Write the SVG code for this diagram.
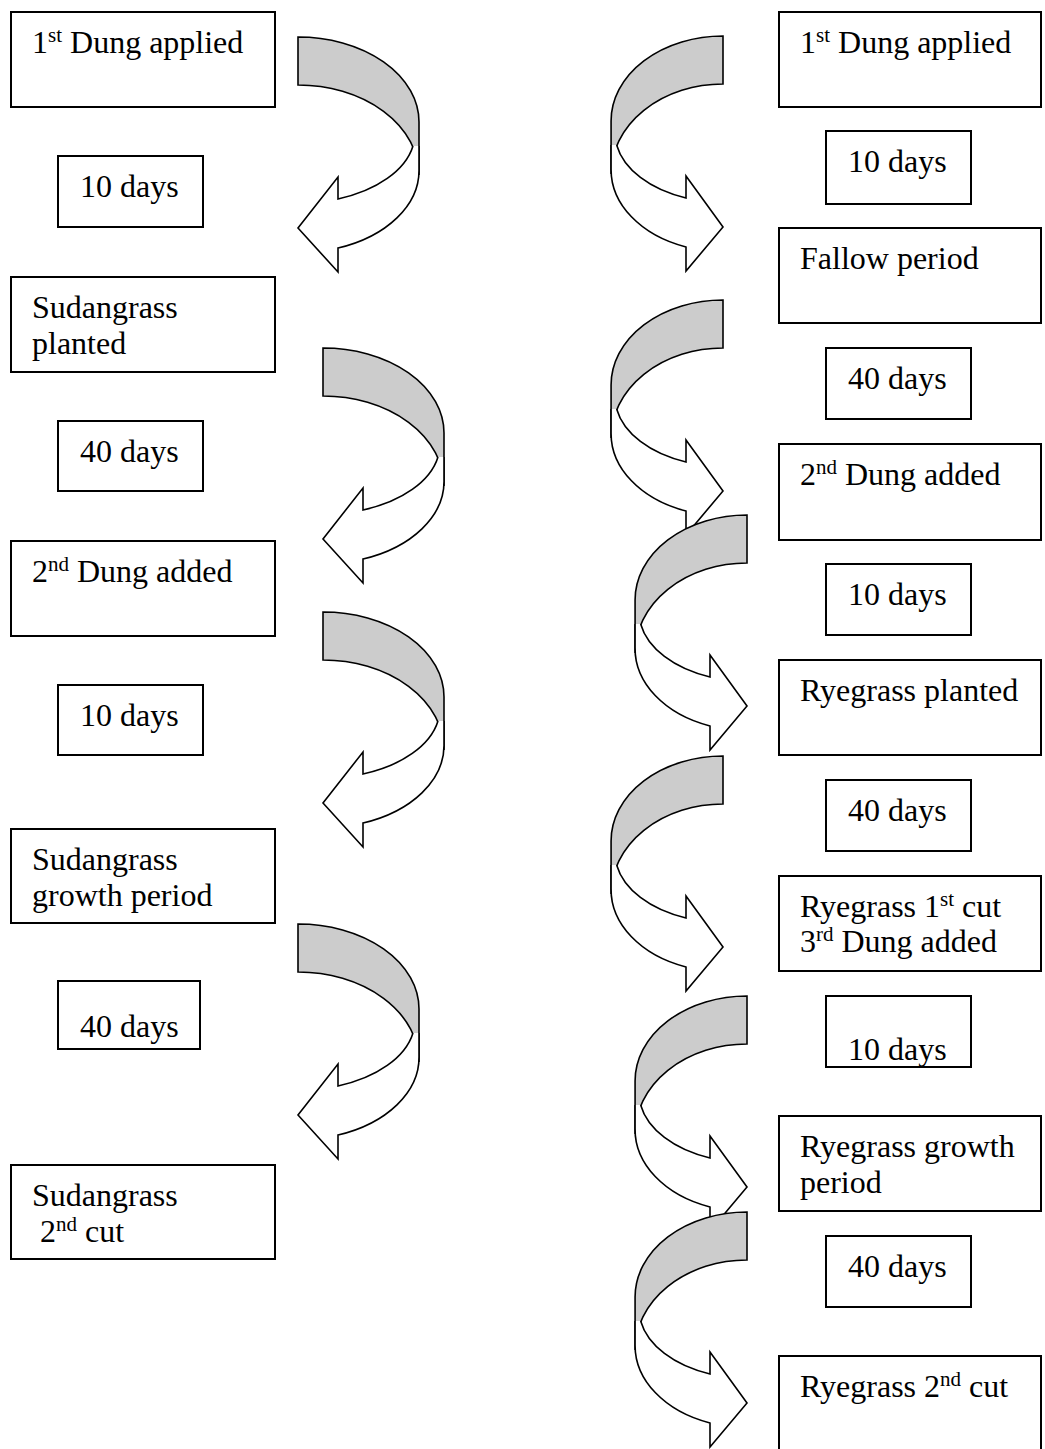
<svg xmlns="http://www.w3.org/2000/svg" xmlns:xlink="http://www.w3.org/1999/xlink" width="1045" height="1449" viewBox="0 0 1045 1449">
<style>
.box{fill:#fff;stroke:#000;stroke-width:2}
.t{font-family:"Liberation Serif","Times New Roman",serif;font-size:32px;fill:#000}
.sup{font-size:21px}
.gr{fill:#cccccc;stroke:#000;stroke-width:1.6;stroke-linejoin:miter}
.wh{fill:#fff;stroke:#000;stroke-width:1.6;stroke-linejoin:miter}
</style>
<defs>
<g id="arrow">
<path class="gr" vector-effect="non-scaling-stroke" d="M0,0 A121,85 0 0 1 121,85 L121,138 A121,90 0 0 0 0,48 Z"/>
<path class="wh" vector-effect="non-scaling-stroke" d="M115,109 A117,70 0 0 1 40,162 L40,140 L0,191 L40,235 L40,211 A121,82 0 0 0 121,133 L121,109"/>
</g>
</defs>
<rect width="1045" height="1449" fill="#fff"/>
<g id="connectors">
<use xlink:href="#arrow" transform="translate(298,37)"/>
<use xlink:href="#arrow" transform="translate(323,348)"/>
<use xlink:href="#arrow" transform="translate(323,612)"/>
<use xlink:href="#arrow" transform="translate(298,924)"/>
<use xlink:href="#arrow" transform="translate(723,36) scale(-0.925,1)"/>
<use xlink:href="#arrow" transform="translate(723,300) scale(-0.925,1)"/>
<use xlink:href="#arrow" transform="translate(747,515) scale(-0.925,1)"/>
<use xlink:href="#arrow" transform="translate(723,756) scale(-0.925,1)"/>
<use xlink:href="#arrow" transform="translate(747,996) scale(-0.925,1)"/>
<use xlink:href="#arrow" transform="translate(747,1212) scale(-0.925,1)"/>
</g>
<g id="L1"><rect class="box" x="11" y="12" width="264" height="95"/><text class="t" x="32" y="53">1<tspan class="sup" dy="-11">st</tspan><tspan dy="11"> Dung applied</tspan></text></g>
<g id="L2"><rect class="box" x="58" y="156" width="145" height="71"/><text class="t" x="80" y="197">10 days</text></g>
<g id="L3"><rect class="box" x="11" y="277" width="264" height="95"/><text class="t" x="32" y="318">Sudangrass</text><text class="t" x="32" y="354">planted</text></g>
<g id="L4"><rect class="box" x="58" y="421" width="145" height="70"/><text class="t" x="80" y="462">40 days</text></g>
<g id="L5"><rect class="box" x="11" y="541" width="264" height="95"/><text class="t" x="32" y="582">2<tspan class="sup" dy="-11">nd</tspan><tspan dy="11"> Dung added</tspan></text></g>
<g id="L6"><rect class="box" x="58" y="685" width="145" height="70"/><text class="t" x="80" y="726">10 days</text></g>
<g id="L7"><rect class="box" x="11" y="829" width="264" height="94"/><text class="t" x="32" y="870">Sudangrass</text><text class="t" x="32" y="906">growth period</text></g>
<g id="L8"><rect class="box" x="58" y="981" width="142" height="68"/><text class="t" x="80" y="1037">40 days</text></g>
<g id="L9"><rect class="box" x="11" y="1165" width="264" height="94"/><text class="t" x="32" y="1206">Sudangrass</text><text class="t" x="40" y="1242">2<tspan class="sup" dy="-11">nd</tspan><tspan dy="11"> cut</tspan></text></g>
<g id="R1"><rect class="box" x="779" y="12" width="262" height="95"/><text class="t" x="800" y="53">1<tspan class="sup" dy="-11">st</tspan><tspan dy="11"> Dung applied</tspan></text></g>
<g id="R2"><rect class="box" x="826" y="131" width="145" height="73"/><text class="t" x="848" y="172">10 days</text></g>
<g id="R3"><rect class="box" x="779" y="228" width="262" height="95"/><text class="t" x="800" y="269">Fallow period</text></g>
<g id="R4"><rect class="box" x="826" y="348" width="145" height="71"/><text class="t" x="848" y="389">40 days</text></g>
<g id="R5"><rect class="box" x="779" y="444" width="262" height="96"/><text class="t" x="800" y="485">2<tspan class="sup" dy="-11">nd</tspan><tspan dy="11"> Dung added</tspan></text></g>
<g id="R6"><rect class="box" x="826" y="564" width="145" height="71"/><text class="t" x="848" y="605">10 days</text></g>
<g id="R7"><rect class="box" x="779" y="660" width="262" height="95"/><text class="t" x="800" y="701">Ryegrass planted</text></g>
<g id="R8"><rect class="box" x="826" y="780" width="145" height="71"/><text class="t" x="848" y="821">40 days</text></g>
<g id="R9"><rect class="box" x="779" y="876" width="262" height="95"/><text class="t" x="800" y="917">Ryegrass 1<tspan class="sup" dy="-11">st</tspan><tspan dy="11"> cut</tspan></text><text class="t" x="800" y="952">3<tspan class="sup" dy="-11">rd</tspan><tspan dy="11"> Dung added</tspan></text></g>
<g id="R10"><rect class="box" x="826" y="996" width="145" height="71"/><text class="t" x="848" y="1060">10 days</text></g>
<g id="R11"><rect class="box" x="779" y="1116" width="262" height="95"/><text class="t" x="800" y="1157">Ryegrass growth</text><text class="t" x="800" y="1193">period</text></g>
<g id="R12"><rect class="box" x="826" y="1236" width="145" height="71"/><text class="t" x="848" y="1277">40 days</text></g>
<g id="R13"><rect class="box" x="779" y="1356" width="262" height="96"/><text class="t" x="800" y="1397">Ryegrass 2<tspan class="sup" dy="-11">nd</tspan><tspan dy="11"> cut</tspan></text></g>
</svg>
